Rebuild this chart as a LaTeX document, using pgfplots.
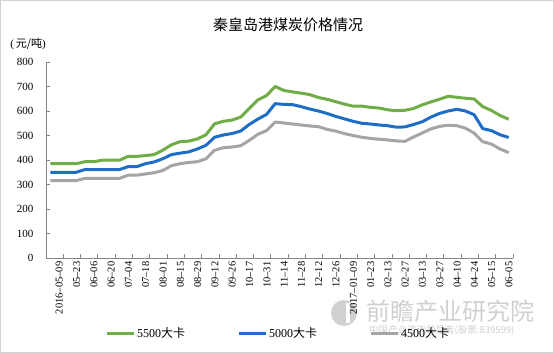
\documentclass[border=0pt]{standalone}
\usepackage{pgfplots}
\usepackage{pgfplotstable}
\pgfplotsset{compat=1.18}
\usepackage{fontspec}
\setmainfont{Liberation Serif}
\newfontfamily\cjk{Noto Sans CJK SC}
\definecolor{cgreen}{RGB}{112,173,71}
\definecolor{cblue}{RGB}{31,110,198}
\definecolor{cgray}{RGB}{165,165,165}
\definecolor{axgray}{RGB}{134,134,134}
\definecolor{wm}{RGB}{208,208,208}
\pgfplotstableread{
i g b y
0 385 350 316
1 385 350 316
2 385 350 316
3 385 350 316
4 393 361 325
5 393 361 325
6 399 361 325
7 399 361 325
8 399 361 325
9 415 373 338
10 415 373 338
11 418 385 343
12 422 392 348
13 440 405 357
14 462 422 377
15 475 428 385
16 477 433 390
17 486 445 393
18 503 460 405
19 548 493 440
20 558 502 450
21 563 508 453
22 575 518 458
23 610 545 480
24 645 567 505
25 663 586 520
26 700 630 555
27 684 627 551
28 678 626 547
29 673 618 543
30 667 608 539
31 655 600 536
32 648 590 525
33 638 578 518
34 628 568 508
35 620 558 500
36 620 550 493
37 615 547 488
38 612 543 485
39 605 540 482
40 601 534 478
41 603 535 476
42 610 545 494
43 625 556 510
44 637 575 527
45 648 590 537
46 660 600 542
47 656 607 540
48 652 600 530
49 649 585 510
50 618 528 475
51 602 520 465
52 582 503 445
53 566 492 430
}\data
\begin{document}
\begin{tikzpicture}
\useasboundingbox (0,0) rectangle (554bp,353bp);
\draw[gray!35, line width=0.8bp] (0.4bp,0.4bp) rectangle (553.6bp,352.6bp);
% watermark
\fill[wm] (344bp,40bp) circle (13bp);
\fill[white] (346bp,30bp) rectangle (350bp,50bp);
\node[text=wm, font=\cjk\fontsize{24bp}{26bp}\selectfont, anchor=west, inner sep=0pt] at (366bp,42bp) {前瞻产业研究院};
\node[text=wm, font=\cjk\fontsize{9.5bp}{11bp}\selectfont, anchor=west, inner sep=0pt] at (369bp,23bp) {中国产业咨询领导者(股票:839599)};
\begin{axis}[
  at={(46bp,95bp)}, anchor=south west,
  scale only axis, width=467bp, height=196bp,
  xmin=-0.5, xmax=53.5, ymin=0, ymax=800,
  axis lines*=left,
  axis line style={-, draw=axgray, line width=0.8bp},
  tick align=inside,
  tick style={axgray, line width=0.8bp},
  major tick length=4bp,
  ytick={0,100,...,800},
  xtick={1.5,3.5,...,53.5},
  xticklabels={2016--05--09,05--23,06--06,06--20,07--04,07--18,08--01,08--15,08--29,09--12,09--26,10--17,10--31,11--14,11--28,12--12,12--26,2017--01--09,01--23,02--13,02--27,03--13,03--27,04--10,04--24,05--15,06--05},
  x tick label style={font=\fontsize{10.5bp}{12bp}\selectfont, xshift=-4bp, rotate=90, anchor=east},
  y tick label style={font=\fontsize{11bp}{13bp}\selectfont, xshift=-9bp},
  /pgf/number format/assume math mode=true,
  legend style={at={(0.126,-0.383)}, anchor=west, draw=none, fill=none, inner sep=0pt,
    legend columns=3, font=\fontsize{12bp}{14bp}\selectfont,
    /tikz/every even column/.append style={column sep=50bp}},
  legend image code/.code={\draw[#1] (0bp,0bp) -- (27bp,0bp);},
]
\addplot[cgreen, line width=3bp, line join=round] table[x=i,y=g]{\data};
\addlegendentry{5500{\cjk 大卡}}
\addplot[cblue, line width=3bp, line join=round] table[x=i,y=b]{\data};
\addlegendentry{5000{\cjk 大卡}}
\addplot[cgray, line width=3bp, line join=round] table[x=i,y=y]{\data};
\addlegendentry{4500{\cjk 大卡}}
\end{axis}
\node[font=\cjk\fontsize{15bp}{17bp}\selectfont] at (288bp,328bp) {秦皇岛港煤炭价格情况};
\node[font=\fontsize{11bp}{13bp}\selectfont] at (28bp,309bp) {(\,{\cjk 元/吨})};
\end{tikzpicture}
\end{document}
